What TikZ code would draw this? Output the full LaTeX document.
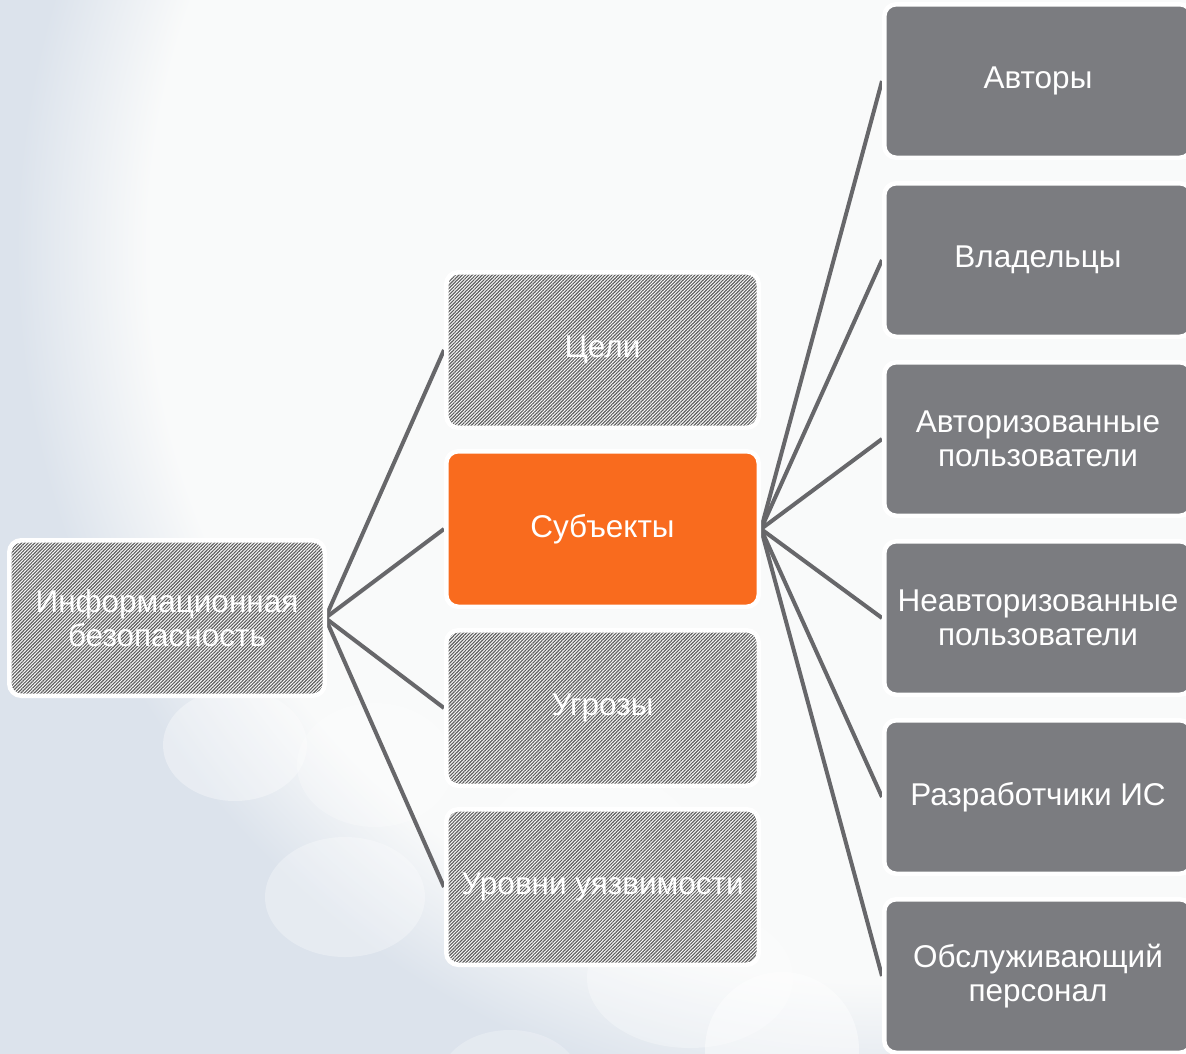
\documentclass[tikz,border=0pt]{standalone}
\usepackage{fontspec}
\setmainfont{Liberation Sans}
\usetikzlibrary{patterns.meta}
\definecolor{bgc}{HTML}{DCE3EC}
\definecolor{glowc}{HTML}{F9FAFA}
\definecolor{boxgray}{HTML}{7B7C80}
\definecolor{orng}{HTML}{F96B1E}
\definecolor{linec}{HTML}{67676A}
\definecolor{hatchc}{HTML}{5E5E5E}
\pgfdeclarelayer{bglayer}
\pgfdeclarelayer{linelayer}
\pgfsetlayers{bglayer,linelayer,main}
\pgfdeclareradialshading{glow}{\pgfpoint{0bp}{0bp}}{color(0bp)=(glowc); color(18.3bp)=(glowc); color(21.6bp)=(bgc); color(50bp)=(bgc)}
\tikzset{
  box/.style={rectangle, rounded corners=12pt, draw=white, line width=4.5pt, text=white,
    font=\fontsize{31.5}{34}\selectfont, align=center, inner sep=0pt},
  leftbox/.style={box, minimum width=315.5pt, minimum height=155.5pt},
  midbox/.style={box, minimum width=312.5pt, minimum height=155.5pt},
  rightbox/.style={box, fill=boxgray, minimum width=307.5pt, minimum height=153.5pt},
  hatched/.style={preaction={fill=white}, pattern={Lines[angle=45,distance=2.35pt,line width=1.15pt]}, pattern color=hatchc},
  conn/.style={draw=linec, line width=4pt},
  bubble/.style={fill=white, fill opacity=#1, draw=none},
}
\begin{document}
\begin{tikzpicture}[x=1pt,y=-1pt]
\useasboundingbox (0,0) rectangle (1186,1053);
\begin{pgfonlayer}{bglayer}
  \begin{scope}
  \clip (0,0) rectangle (1186,1053);
  \fill[bgc] (0,0) rectangle (1186,1053);
  \shade[shading=glow] (-120,-750) rectangle (1880,1250);
  \fill[bubble=0.35] (235,745) ellipse (72pt and 56pt);
  \fill[bubble=0.25] (375,765) ellipse (78pt and 62pt);
  \fill[bubble=0.3] (345,897) ellipse (80pt and 60pt);
  \fill[bubble=0.2] (590,860) ellipse (112pt and 92pt);
  \fill[bubble=0.3] (690,978) ellipse (103pt and 70pt);
  \fill[bubble=0.45] (782,1050) ellipse (77pt and 78pt);
  \fill[bubble=0.25] (510,1080) ellipse (70pt and 50pt);
  \end{scope}
\end{pgfonlayer}

\node[leftbox, hatched] (info) at (167,618) {Информационная\\безопасность};

\node[midbox, hatched] (goals) at (602.5,350) {Цели};
\node[midbox, fill=orng] (subj) at (602.5,529) {Субъекты};
\node[midbox, hatched] (threats) at (602.5,708) {Угрозы};
\node[midbox, hatched] (levels) at (602.5,887) {Уровни уязвимости};

\node[rightbox] (r1) at (1038,81) {Авторы};
\node[rightbox] (r2) at (1038,260) {Владельцы};
\node[rightbox] (r3) at (1038,439) {Авторизованные\\пользователи};
\node[rightbox] (r4) at (1038,618) {Неавторизованные\\пользователи};
\node[rightbox] (r5) at (1038,797) {Разработчики ИС};
\node[rightbox] (r6) at (1038,976) {Обслуживающий\\персонал};

\begin{pgfonlayer}{linelayer}
  \foreach \t in {goals,subj,threats,levels}
    \draw[conn] (info.east) -- (\t.west);
  \foreach \t in {r1,r2,r3,r4,r5,r6}
    \draw[conn] (subj.east) -- (\t.west);
\end{pgfonlayer}
\end{tikzpicture}
\end{document}
